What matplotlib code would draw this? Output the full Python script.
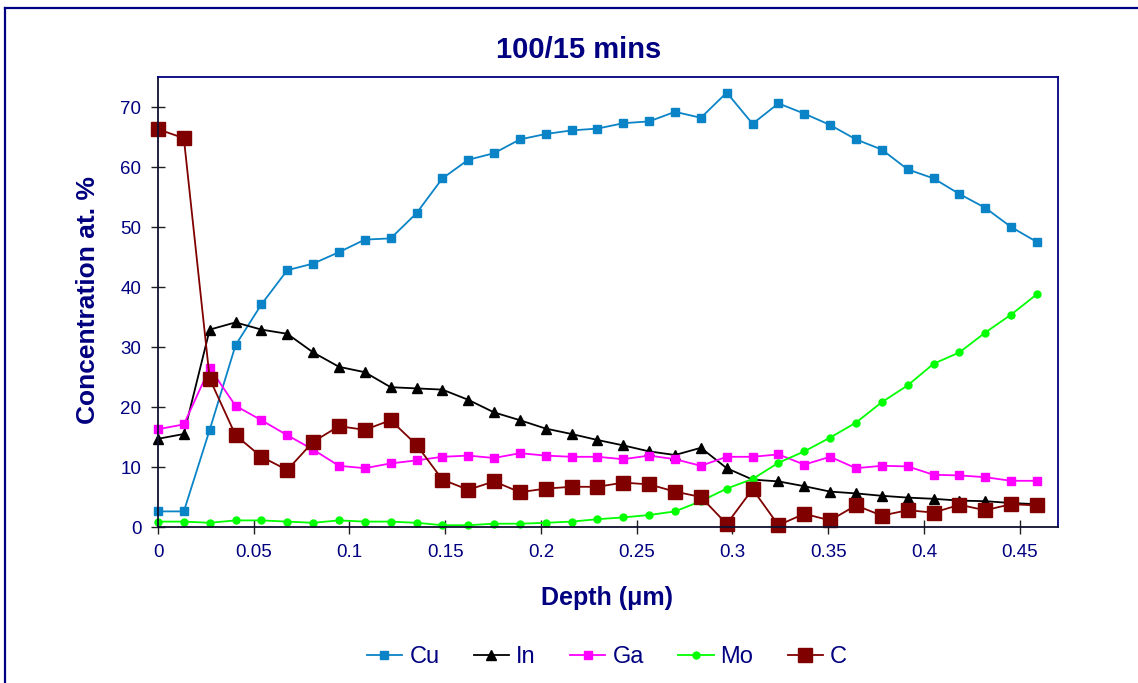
import numpy as np
import matplotlib
matplotlib.use('Agg')
import matplotlib.pyplot as plt
from matplotlib.lines import Line2D

plt.rcParams['font.family'] = ['Liberation Sans', 'DejaVu Sans']

# depth profile data
depth = [0, 0.0135, 0.027, 0.0405, 0.054, 0.0675, 0.081, 0.0945, 0.108, 0.1215,
         0.135, 0.1485, 0.162, 0.1755, 0.189, 0.2025, 0.216, 0.2295, 0.243, 0.2565,
         0.27, 0.2835, 0.297, 0.3105, 0.324, 0.3375, 0.351, 0.3645, 0.378, 0.3915,
         0.405, 0.4185, 0.432, 0.4455, 0.459]

cu = [2.6, 2.6, 16.2, 30.3, 37.1, 42.8, 43.9, 45.8, 47.9, 48.1,
      52.3, 58.1, 61.2, 62.3, 64.6, 65.5, 66.1, 66.4, 67.3, 67.6,
      69.2, 68.2, 72.4, 67.2, 70.6, 68.9, 67.0, 64.6, 62.9, 59.6,
      58.1, 55.5, 53.2, 50.0, 47.5]

inn = [14.7, 15.5, 32.9, 34.1, 32.9, 32.2, 29.1, 26.7, 25.8, 23.3,
       23.1, 22.9, 21.2, 19.1, 17.8, 16.4, 15.5, 14.5, 13.6, 12.6,
       12.0, 13.2, 9.8, 7.9, 7.6, 6.8, 5.9, 5.6, 5.2, 4.9,
       4.7, 4.4, 4.3, 4.0, 3.8]

ga = [16.3, 17.1, 26.5, 20.2, 17.8, 15.3, 12.9, 10.2, 9.8, 10.6,
      11.1, 11.7, 11.9, 11.5, 12.3, 11.9, 11.7, 11.7, 11.3, 11.9,
      11.3, 10.2, 11.7, 11.7, 12.1, 10.4, 11.7, 9.8, 10.2, 10.1,
      8.7, 8.6, 8.3, 7.7, 7.7]

mo = [0.9, 0.9, 0.7, 1.1, 1.1, 0.9, 0.7, 1.1, 0.9, 0.9,
      0.7, 0.3, 0.3, 0.55, 0.55, 0.7, 0.9, 1.3, 1.6, 2.0,
      2.6, 4.3, 6.4, 8.0, 10.7, 12.6, 14.9, 17.4, 20.8, 23.6,
      27.2, 29.1, 32.4, 35.4, 38.8]

c = [66.3, 64.8, 24.7, 15.3, 11.7, 9.5, 14.2, 16.8, 16.2, 17.8,
     13.7, 7.9, 6.2, 7.6, 5.8, 6.4, 6.7, 6.7, 7.4, 7.1,
     5.9, 5.0, 0.5, 6.3, 0.3, 2.2, 1.1, 3.6, 1.9, 2.8,
     2.4, 3.7, 2.8, 3.8, 3.6]

navy = '#000080'

fig = plt.figure(figsize=(11.38, 6.83), dpi=100)
ax = fig.add_axes([158/1138, 1-527/683, 900/1138, 450/683])

ax.plot(depth, cu, c='#0a84c6', lw=1.3, marker='s', ms=5.5, label='Cu', clip_on=False)
ax.plot(depth, inn, c='k', lw=1.3, marker='^', ms=6.5, label='In', clip_on=False)
ax.plot(depth, ga, c='#ff00ff', lw=1.3, marker='s', ms=5.5, label='Ga', clip_on=False)
ax.plot(depth, mo, c='#00ff00', lw=1.3, marker='o', ms=5, label='Mo', clip_on=False)
ax.plot(depth, c, c='#800000', lw=1.3, marker='s', ms=10, label='C', clip_on=False)

ax.set_xlim(0, 0.47)
ax.set_ylim(0, 75)
ax.set_xticks([0, 0.05, 0.1, 0.15, 0.2, 0.25, 0.3, 0.35, 0.4, 0.45])
ax.set_xticklabels(['0', '0.05', '0.1', '0.15', '0.2', '0.25', '0.3', '0.35', '0.4', '0.45'])
ax.set_yticks(range(0, 71, 10))
ax.tick_params(direction='inout', length=10, width=1, color='#202020',
               labelcolor=navy, labelsize=13.5, pad=7)

ax.spines['left'].set_color('#101030')
ax.spines['bottom'].set_color('#101030')
ax.spines['top'].set_color(navy)
ax.spines['right'].set_color(navy)
for s in ax.spines.values():
    s.set_linewidth(1.3)

fig.text(579/1138, 1-50/683, '100/15 mins', ha='center', va='center',
         fontsize=21, fontweight='bold', color=navy)
fig.text(88/1138, 1-300/683, 'Concentration at. %', ha='center', va='center',
         rotation=90, fontsize=19, fontweight='bold', color=navy)
fig.text(607/1138, 1-598/683, 'Depth (\u03bcm)', ha='center', va='center',
         fontsize=18, fontweight='bold', color=navy)

leg = fig.legend(loc='center', bbox_to_anchor=(607/1138, 1-657/683), ncol=5,
                 frameon=False, fontsize=17, handlelength=1.5, handletextpad=0.3,
                 columnspacing=1.45, labelcolor=navy)

# outer chart border (top and left edges visible)
fig.add_artist(Line2D([5/1138, 5/1138], [0, 1-8/683], color=navy, lw=1.6))
fig.add_artist(Line2D([5/1138, 1], [1-8/683, 1-8/683], color=navy, lw=1.6))

fig.savefig('out.png', dpi=100)
